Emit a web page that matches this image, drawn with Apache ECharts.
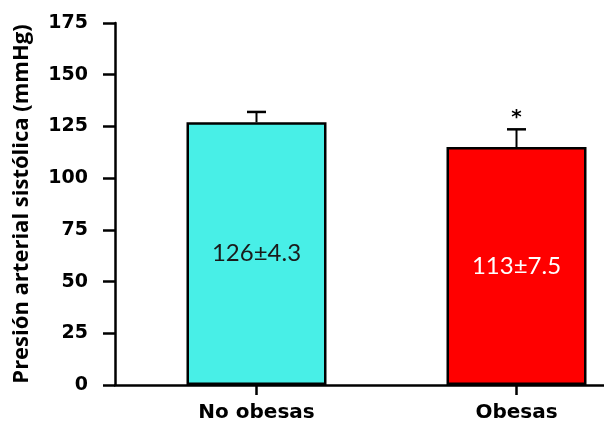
<!DOCTYPE html>
<html>
<head>
<meta charset="utf-8">
<script src="https://cdn.jsdelivr.net/npm/echarts@6/dist/echarts.min.js"></script>
<style>
html,body{margin:0;padding:0;background:#fff;}
#c{width:604px;height:428px;}
</style>
</head>
<body>
<div id="c"></div>
<script>
const categories = ["No obesas", "Obesas"];
const means = [127, 115];
const errTops = [132, 123.6];
const barLabels = ["126±4.3", "113±7.5"];
const sigMarks = ["", "*"];
const yTicks = [0, 25, 50, 75, 100, 125, 150, 175];
const barColors = ["#48EFE7", "#FF0000"];
const labelColors = ["#1a1a1a", "#ffffff"];

const chart = echarts.init(document.getElementById('c'), null, {renderer: 'canvas'});

const barData = means.map((v, i) => ({
  value: [i, v],
  itemStyle: {color: barColors[i], borderColor: '#000', borderWidth: 2.5},
  label: {color: labelColors[i]}
}));
const errData = means.map((v, i) => [i, v, errTops[i]]);

const option = {
  animation: false,
  backgroundColor: '#fff',
  grid: {left: 115, right: 0, top: 23, bottom: 43, containLabel: false},
  xAxis: {
    type: 'value',
    min: -0.5442,
    max: 1.3365,
    splitLine: {show: false},
    axisLine: {show: true, onZero: false, lineStyle: {color: '#000', width: 2.5}},
    axisTick: {show: true, customValues: [0, 1], length: 10, lineStyle: {color: '#000', width: 2.5}},
    axisLabel: {
      customValues: [0, 1],
      formatter: v => categories[Math.round(v)],
      color: '#000', fontFamily: 'DejaVu Sans', fontWeight: 'bold', fontSize: 20, margin: 18
    }
  },
  yAxis: {
    type: 'value',
    min: yTicks[0],
    max: yTicks[yTicks.length - 1],
    interval: 25,
    splitLine: {show: false},
    axisLine: {show: true, onZero: false, lineStyle: {color: '#000', width: 2.5}},
    axisTick: {show: true, length: 12, lineStyle: {color: '#000', width: 2.5}},
    axisLabel: {color: '#000', fontFamily: 'DejaVu Sans', fontWeight: 'bold', fontSize: 19, margin: 27},
    name: 'Presión arterial sistólica (mmHg)',
    nameLocation: 'middle',
    nameRotate: 90,
    nameGap: 82,
    nameTextStyle: {color: '#000', fontFamily: 'Open Sans', fontWeight: 'bold', fontSize: 22}
  },
  series: [
    {
      type: 'bar',
      data: barData,
      barWidth: 140,
      label: {
        show: true,
        position: 'inside',
        formatter: p => barLabels[p.dataIndex],
        fontFamily: 'Lato',
        fontSize: 24
      },
      z: 2
    },
    {
      type: 'custom',
      data: errData,
      z: 3,
      renderItem: function (params, api) {
        const x = api.value(0);
        const base = api.coord([x, api.value(1)]);
        const top = api.coord([x, api.value(2)]);
        const half = 9.5;
        const children = [
          {type: 'line', shape: {x1: top[0], y1: base[1], x2: top[0], y2: top[1]}, style: {stroke: '#000', lineWidth: 2}},
          {type: 'line', shape: {x1: top[0] - half, y1: top[1], x2: top[0] + half, y2: top[1]}, style: {stroke: '#000', lineWidth: 2.5}}
        ];
        const mark = sigMarks[params.dataIndex];
        if (mark) {
          children.push({type: 'text', style: {text: mark, x: top[0], y: top[1] - 2, align: 'center', verticalAlign: 'bottom', fill: '#000', font: 'bold 20px "DejaVu Sans"'}});
        }
        return {type: 'group', children: children};
      }
    }
  ]
};
chart.setOption(option);
</script>
</body>
</html>
